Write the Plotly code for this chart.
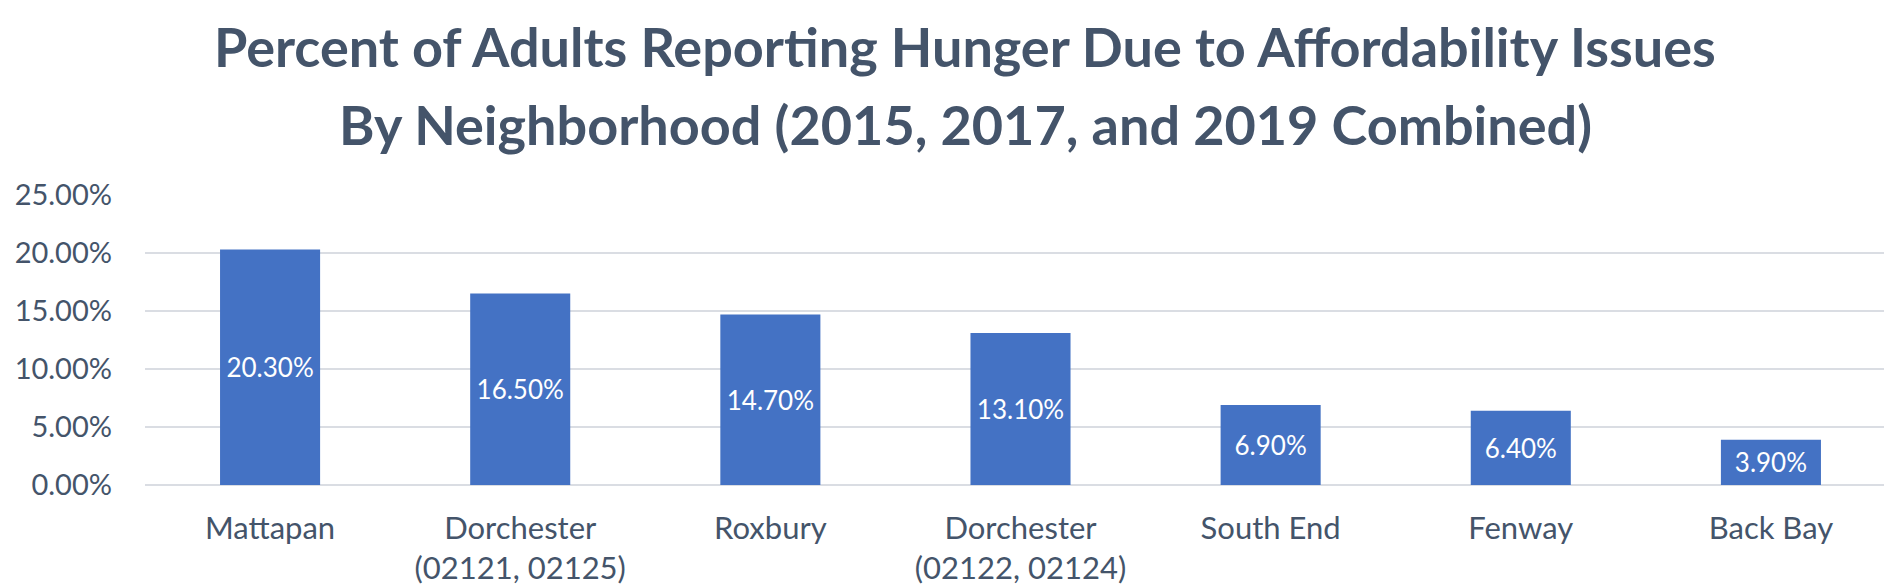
import plotly.graph_objects as go

categories = ["Mattapan", "Dorchester<br>(02121, 02125)", "Roxbury", "Dorchester<br>(02122, 02124)",
              "South End", "Fenway", "Back Bay"]
values = [0.203, 0.165, 0.147, 0.131, 0.069, 0.064, 0.039]
y_ticks = [0, 0.05, 0.10, 0.15, 0.20, 0.25]
title_lines = ["Percent of Adults Reporting Hunger Due to Affordability Issues",
               "By Neighborhood (2015, 2017, and 2019 Combined)"]

TXT = "#44546A"
FONT = "Lato"

fig = go.Figure(go.Bar(
    x=categories, y=values,
    marker=dict(color="#4472C4", line=dict(width=0)),
    texttemplate="%{y:.2%}", textposition="inside", insidetextanchor="middle",
    textangle=0, constraintext="none",
    textfont=dict(color="white", size=26, family=FONT),
))

fig.update_layout(
    width=1892, height=587,
    margin=dict(l=137, r=4, t=187, b=110),
    paper_bgcolor="white", plot_bgcolor="white",
    bargap=0.6,
    showlegend=False,
    uniformtext=dict(minsize=26, mode="show"),
    font=dict(family=FONT, color=TXT),
)
for line, ypx in zip(title_lines, [38, 117]):
    fig.add_annotation(
        text="<b>" + line + "</b>", xref="paper", yref="paper",
        x=(957 - 137) / (1892 - 137 - 4), y=1 + (187 - ypx) / 290,
        xanchor="center", yanchor="middle", showarrow=False,
        font=dict(family=FONT, size=54, color=TXT),
    )
fig.update_xaxes(
    tickfont=dict(size=31, color=TXT, family=FONT), ticks="", ticklabelstandoff=22,
    showline=False, showgrid=False,
)
fig.update_yaxes(
    range=[0, 0.25], tickvals=y_ticks, tickformat=".2%",
    tickfont=dict(size=29, color=TXT, family=FONT), ticks="", ticklabelstandoff=32,
    showgrid=True, gridcolor="#DADDE3", gridwidth=2,
    zeroline=True, zerolinecolor="#DADDE3", zerolinewidth=2,
)

fig.write_html("out.html")
